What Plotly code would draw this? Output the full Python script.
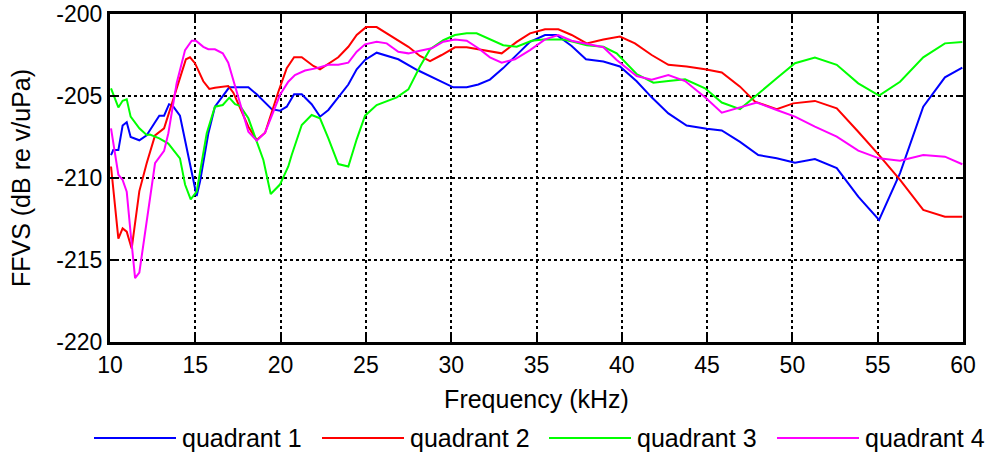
import plotly.graph_objects as go

names = ["quadrant 1", "quadrant 2", "quadrant 3", "quadrant 4"]
colors = ["#0000ff", "#ff0000", "#00ff00", "#ff00ff"]

q1_f = [10.06, 10.19, 10.49, 10.74, 10.98, 11.21, 11.72, 12.15, 12.64, 12.89, 13.17, 13.46, 13.68,
        14.10, 15.08, 15.28, 15.76, 16.15, 16.99, 18.11, 18.60, 19.48, 19.96, 20.36, 20.79, 21.24,
        21.82, 22.31, 22.80, 23.97, 24.46, 24.95, 25.63, 26.90, 27.98, 28.95, 29.74, 30.12, 30.91,
        31.59, 32.27, 33.05, 33.93, 34.62, 35.50, 36.18, 37.06, 37.90, 38.92, 39.89, 40.87, 41.75,
        42.73, 43.80, 44.98, 45.86, 46.93, 48.00, 49.08, 50.15, 51.32, 52.60, 53.86, 55.08, 56.31,
        57.67, 58.94, 59.96]
q1_v = [-208.6, -208.3, -208.3, -206.8, -206.6, -207.5, -207.7, -207.4, -206.6, -206.2, -206.2, -205.5, -205.6,
        -206.2, -211.1, -210.2, -207.3, -205.65, -204.47, -204.47, -204.9, -205.8, -205.9, -205.65, -204.9, -204.9,
        -205.5, -206.26, -205.85, -204.3, -203.37, -202.8, -202.36, -202.76, -203.4, -203.9, -204.3, -204.47, -204.47,
        -204.3, -204.0, -203.3, -202.4, -201.7, -201.28, -201.28, -201.95, -202.76, -202.9, -203.2, -204.1, -205.08,
        -206.06, -206.8, -207.0, -207.1, -207.8, -208.6, -208.8, -209.07, -208.84, -209.4, -211.14, -212.56, -209.7,
        -205.65, -203.86, -203.27]

q2_f = [10.06, 10.49, 10.74, 10.98, 11.27, 11.72, 12.15, 12.64, 13.17, 13.62, 14.10, 14.45, 14.69,
        14.98, 15.47, 15.82, 16.15, 16.93, 17.23, 18.11, 18.60, 19.09, 19.87, 20.36, 20.79, 21.24,
        21.92, 22.31, 23.38, 23.97, 24.46, 25.01, 25.63, 26.61, 27.49, 28.17, 28.76, 29.44, 30.22,
        30.91, 31.98, 32.96, 33.84, 34.62, 35.50, 36.28, 37.06, 37.94, 38.92, 39.89, 40.77, 41.75,
        42.73, 43.80, 44.88, 45.86, 46.93, 47.81, 49.08, 50.05, 51.32, 52.60, 53.86, 55.08, 56.31,
        57.67, 58.94, 59.96]
q2_v = [-209.3, -213.7, -213.07, -213.27, -214.3, -210.8, -209.1, -207.4, -206.97, -205.5, -203.9, -202.76, -202.64,
        -203.0, -204.1, -204.57, -204.5, -204.39, -204.8, -206.87, -207.68, -207.24, -204.74, -203.3, -202.64, -202.64,
        -203.17, -203.37, -202.64, -202.0, -201.28, -200.8, -200.8, -201.42, -202.0, -202.56, -202.87, -202.5, -202.03,
        -202.03, -202.2, -202.4, -201.7, -201.18, -200.93, -200.93, -201.28, -201.79, -201.55, -201.38, -201.79, -202.5,
        -203.1, -203.2, -203.37, -203.57, -204.43, -205.35, -205.8, -205.45, -205.3, -205.75, -207.18, -208.6, -210.12,
        -211.95, -212.36, -212.36]

q3_f = [10.06, 10.49, 10.74, 10.98, 11.21, 11.72, 12.15, 12.34, 12.89, 13.42, 14.10, 14.40, 14.73,
        15.08, 15.67, 16.15, 16.61, 16.99, 17.33, 17.62, 18.11, 18.99, 19.42, 19.96, 20.45, 20.65,
        21.24, 21.82, 22.31, 22.80, 23.38, 23.97, 24.46, 24.95, 25.63, 26.81, 27.49, 28.17, 28.76,
        29.54, 30.22, 30.91, 31.49, 32.17, 33.05, 33.84, 34.72, 35.40, 36.57, 37.16, 37.94, 38.92,
        39.70, 40.87, 41.85, 42.73, 43.71, 44.88, 45.86, 46.93, 48.00, 49.08, 50.15, 51.32, 52.60,
        53.86, 55.08, 56.31, 57.67, 58.94, 59.96]
q3_v = [-204.53, -205.7, -205.29, -205.2, -206.26, -206.97, -207.38, -207.35, -207.58, -207.9, -208.8, -210.4, -211.3,
        -210.83, -207.27, -205.65, -205.55, -205.1, -205.5, -205.6, -206.36, -208.9, -210.98, -210.4, -209.3, -208.6,
        -206.77, -206.16, -206.36, -207.58, -209.15, -209.3, -207.64, -206.2, -205.55, -205.08, -204.6, -203.2, -202.15,
        -201.6, -201.28, -201.18, -201.18, -201.5, -201.9, -202.0, -201.63, -201.55, -201.55, -201.69, -201.9, -202.0,
        -202.4, -203.66, -204.19, -204.09, -203.98, -204.53, -205.4, -205.8, -204.84, -203.92, -203.0, -202.66, -203.1,
        -204.23, -204.98, -204.13, -202.64, -201.79, -201.7]

q4_f = [10.06, 10.49, 10.74, 10.98, 11.21, 11.47, 11.72, 12.15, 12.64, 13.17, 13.42, 13.91, 14.40,
        14.79, 15.04, 15.47, 15.76, 16.15, 16.61, 16.93, 17.62, 18.11, 18.60, 19.09, 19.96, 20.45,
        20.84, 21.43, 22.12, 22.80, 23.38, 23.97, 24.46, 24.95, 25.63, 26.22, 26.90, 27.49, 28.17,
        28.86, 29.54, 30.22, 30.91, 31.59, 32.27, 32.96, 33.74, 34.62, 35.50, 36.28, 37.06, 37.94,
        38.92, 39.70, 40.87, 41.75, 42.73, 43.71, 44.88, 45.86, 46.93, 47.91, 49.08, 50.15, 51.32,
        52.60, 53.86, 55.08, 56.31, 57.67, 58.94, 59.96]
q4_v = [-206.97, -209.8, -210.12, -210.83, -213.37, -216.1, -215.77, -212.56, -209.1, -208.35, -207.27, -204.2, -202.2,
        -201.63, -201.63, -202.0, -202.15, -202.15, -202.4, -202.97, -205.45, -207.18, -207.72, -207.24, -204.94, -204.13,
        -203.72, -203.45, -203.3, -203.1, -203.1, -202.97, -202.3, -201.85, -201.69, -201.79, -202.3, -202.4, -202.24,
        -202.09, -201.69, -201.55, -201.63, -202.09, -202.64, -202.97, -202.76, -202.2, -201.55, -201.28, -201.63, -201.83,
        -202.03, -202.8, -203.78, -204.0, -203.72, -204.09, -205.08, -206.02, -205.69, -205.4, -205.85, -206.26, -206.87,
        -207.48, -208.33, -208.8, -208.94, -208.6, -208.7, -209.16]

x_ticks = [10, 15, 20, 25, 30, 35, 40, 45, 50, 55, 60]
y_ticks = [-220, -215, -210, -205, -200]

series = [(q1_f, q1_v), (q2_f, q2_v), (q3_f, q3_v), (q4_f, q4_v)]

FONT = "Liberation Sans, Arial, sans-serif"

fig = go.Figure()
for (f, v), name, col in zip(series, names, colors):
    fig.add_trace(go.Scatter(x=f, y=v, mode="lines", name=name,
                             line=dict(color=col, width=2), showlegend=False))

axis_common = dict(
    showline=True, linecolor="black", linewidth=3, mirror="allticks",
    ticks="inside", ticklen=7, tickwidth=1.5, tickcolor="black",
    showgrid=True, gridcolor="black", gridwidth=1.5, griddash="3px,3px",
    zeroline=False, tickfont=dict(family=FONT, size=23, color="black"),
)

fig.update_xaxes(range=[10, 60], tickvals=x_ticks, ticktext=[str(t) for t in x_ticks],
                 title=dict(text="Frequency (kHz)", font=dict(family=FONT, size=25, color="black"), standoff=14),
                 **axis_common)
fig.update_yaxes(range=[-220, -200], tickvals=y_ticks, ticktext=[str(t) for t in y_ticks],
                 title=dict(text="FFVS (dB re v/uPa)", font=dict(family=FONT, size=25, color="black"), standoff=19),
                 **axis_common)

# manual legend below the plot
leg_y = -0.293
plot_w = 853.0
starts_px = [94, 322, 549, 777]
for sx, name, col in zip(starts_px, names, colors):
    x0 = (sx - 110) / plot_w
    x1 = (sx + 82 - 110) / plot_w
    fig.add_shape(type="line", xref="paper", yref="paper", x0=x0, x1=x1, y0=leg_y, y1=leg_y,
                  line=dict(color=col, width=2))
    fig.add_annotation(xref="paper", yref="paper", x=(sx + 86 - 110) / plot_w, y=leg_y,
                       xanchor="left", yanchor="middle", text=name, showarrow=False,
                       font=dict(family=FONT, size=25, color="black"))

fig.update_layout(
    width=993, height=456,
    margin=dict(l=110, r=30, t=14, b=114, autoexpand=False),
    paper_bgcolor="white", plot_bgcolor="white",
    font=dict(family=FONT, color="black"),
)

fig.write_html("out.html")
